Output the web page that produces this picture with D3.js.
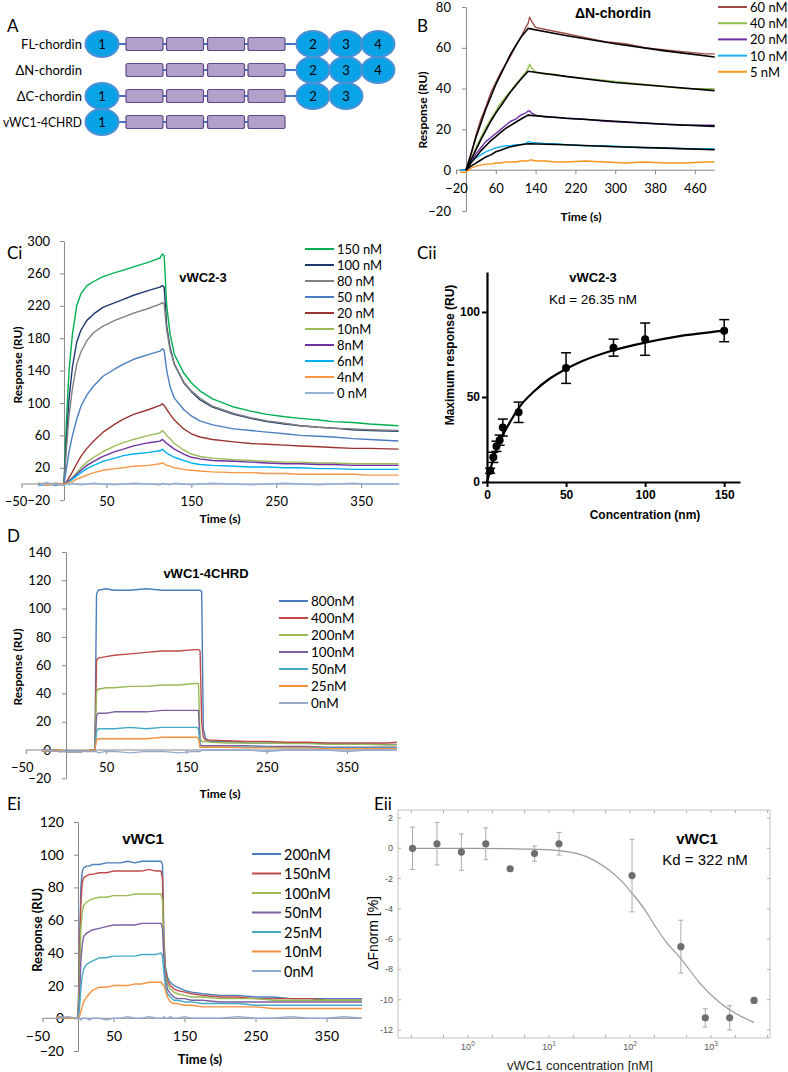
<!DOCTYPE html>
<html><head><meta charset="utf-8">
<script src="https://cdn.jsdelivr.net/npm/d3@7"></script>
<style>body{margin:0;background:#fff} svg{display:block}</style>
</head><body><svg id="c" width="788" height="1072"></svg>
<script>
// ---------------- DATA ----------------
// Panel A
const constructs = ["FL-chordin","ΔN-chordin","ΔC-chordin","vWC1-4CHRD"];
const constructParts = [
  ["v1","c1","c2","c3","c4","v2","v3","v4"],
  ["c1","c2","c3","c4","v2","v3","v4"],
  ["v1","c1","c2","c3","c4","v2","v3"],
  ["v1","c1","c2","c3","c4"]];
const partSlots = ["v1","c1","c2","c3","c4","v2","v3","v4"];
const partLabels = {v1:"1",v2:"2",v3:"3",v4:"4"};

// Panel B  (ΔN-chordin)
const bNames = ["60 nM","40 nM","20 nM","10 nM","5 nM"];
const bTime = [-12,0,10,20,30,40,50,60,70,80,90,100,110,120,125,128,132,140,160,180,200,240,280,320,360,400,440,480,500];
const b60 = [0,0,7,17,25,31,38,43,48,52,56,61,65,70,72,75,73,70,69,68,67,65,63,62,60,59,58,57,57];
const b40 = [0,0,5,11,16,21,25,29,33,36,39,42,45,48,50,52,50,48,47,47,46,45,44,43,42,41,40,40,40];
const b20 = [0,0,4,8,11,14,16,18,20,22,24,25,27,28,29,29,28,27,26,26,25.5,25,24,23.5,23,22.5,22,22,22];
const b10 = [0,0,4,6,7.5,9,10,11,11.5,12,12,12.5,12.5,13,14,14,13.5,13.5,13,13,12.5,12,12,11.5,11,11,10.5,10.5,10.5];
const b5  = [-1,-1,1,2,2.5,3,3,3.5,3.5,4,4,4,4.5,4.5,4.5,5,5,4.5,4.5,4,4,4.5,4,3.5,4,3.5,3.5,4,4];
const bFitTime = [0,10,20,30,40,50,60,70,80,90,100,110,125,200,300,400,500];
const bFit60 = [0,8,16,23,30,36,42,47,52,57,61,65,69.5,66,62,58.5,55.5];
const bFit40 = [0,5,10,15,19.5,24,28,31.5,35,38.5,41.5,44.5,48.5,46,43,41,39];
const bFit20 = [0,3.5,6.5,9.5,12,14.5,16.5,18.5,20.5,22,23.5,25,27,25.5,24,22.5,21.5];
const bFit10 = [0,2,3.5,5,6.5,7.5,9,9.8,10.8,11.5,12,12.5,13,12.5,11.5,10.8,10];
const bXTicks = [-20,60,140,220,300,380,460];
const bYTicks = [-20,0,20,40,60,80];

// Panel Ci (vWC2-3)
const cNames = ["150 nM","100 nM","80 nM","50 nM","20 nM","10nM","8nM","6nM","4nM","0 nM"];
const cTime = [-30,-20,-10,0,3,6,10,15,20,27,35,46,60,70,82,100,113,116,118,121,125,130,141,150,160,175,200,220,239,260,278,300,317,340,360,394];
const c150 = [1,-1,0,0,80,140,185,220,235,245,250,256,261,264,268,274,279,284,282,220,185,160,137,125,115,105,95,90,86,83,81,79,77,76,74,72];
const c100 = [0,1,-1,0,55,105,145,175,190,202,210,218,224,228,233,239,243,245,243,195,168,148,125,114,104,95,86,81,77,74,72,70,69,67,66,65];
const c80  = [-1,0,1,0,45,85,118,148,163,177,187,195,202,206,211,217,222,224,222,190,165,148,126,115,106,96,87,82,78,75,72,70,69,68,67,66];
const c50  = [0,-1,0,0,20,40,60,80,96,110,121,133,142,148,154,160,164,167,165,140,120,106,92,84,78,73,68,66,64,62,60,59,58,56,55,53];
const c20  = [0,0,-1,0,3,8,15,25,34,44,53,64,74,80,86,92,97,99,97,92,86,79,68,62,58,55,52,50,49,48,47,46,45,44,44,43];
const c10  = [0,0,0,0,2,4,8,14,20,27,33,40,47,51,55,60,63,66,64,60,56,50,42,37,34,32,30,29,28,27,27,26,26,25,25,25];
const c8   = [0,0,0,0,2,4,7,12,17,23,28,34,40,43,47,51,53,55,53,50,47,43,37,33,31,29,28,27,26,25,25,24,24,23,23,23];
const c6   = [-2,0,-1,0,1,3,6,10,14,19,23,28,32,35,37,39,41,43,41,38,36,33,29,26,24,23,22,21,21,20,20,19,19,18,18,18];
const c4   = [0,-1,0,0,1,2,3,6,8,11,14,17,19,20,22,23,25,26,25,23,22,20,18,17,16,15,14,14,13,13,12,12,12,12,11,11];
const c0   = [-1,1,0,-2,0,-1,1,0,-1,0,1,0,-1,0,1,0,-1,1,0,0,-1,1,0,-1,0,1,0,-1,0,1,0,-1,0,1,0,0];
const cXTicks = [-50,50,150,250,350];
const cYTicks = [-20,20,60,100,140,180,220,260,300];

// Panel Cii
const ciiConc = [2,4,6,8,10,20,50,80,100,150];
const ciiMax  = [6.6,14.5,21,24.6,32,41,67,79,84,89];
const ciiErr  = [1.5,3,3,3,5,6,9,5,9.5,6.5];
const ciiFitConc = [0,2,4,6,8,10,15,20,30,40,50,60,80,100,120,150];
const ciiFitVal  = [0,7,13.5,19,23.5,27.5,36,43.5,53.5,61,66.5,71,77.5,82,85.5,89];
const ciiXTicks = [0,50,100,150];
const ciiYTicks = [0,50,100];

// Panel D (vWC1-4CHRD)
const dNames = ["800nM","400nM","200nM","100nM","50nM","25nM","0nM"];
const dTime = [-30,-10,0,20,36,38,40,50,60,80,100,120,140,160,163,165,167,169,171,174,180,200,225,250,275,300,325,350,375,400,412];
const d800 = [-1,0,-1,-1,0,110,113,114,113,113,114,113,113,113,113,113,113,112,15,8,6,6,5,5,5,5,4.5,4.5,4.5,4,4];
const d400 = [0,-1,-1,-1,0,63,65,66,67,68,69,70,70,71,71,71,70,20,9,7,7,6.5,6,6,5.5,5.5,5,5,5,5,5.5];
const d200 = [-1,0,-1,-1,0,41,43,44,44,45,45,46,46,47,47,47,8,6,6,6,5.5,5,5,5,4.5,4.5,4,4,4,3.5,3.5];
const d100 = [-1,0,-1,-1,0,24,26,26,27,27,27,28,28,28,28,28,4,3,3,3,3,3,3,2.5,2.5,2.5,2,2,2,2,2];
const d50  = [-1,0,-1,-1,0,13,15,15,15,16,15,16,16,16,16,15,2,2,2,2,2,2,2,2,1.5,1.5,1.5,1.5,1.5,1.5,1.5];
const d25  = [-1,0,-1,-1,0,7,8,8,8,8,8,9,9,9,9,8,2,2,2,2,2,2,1.5,1.5,1.5,1.5,1,1,1,1,1];
const d0   = [0,-1,-1,-1,-1,-1,-2,-1,-1,-2,-1,-1,-2,-1,-1,-1,-1,0,0,0,0,0,0,-1,0,0,0,-1,0,0,0];
const dXTicks = [-50,50,150,250,350];
const dYTicks = [-20,0,20,40,60,80,100,120,140];

// Panel Ei (vWC1)
const eNames = ["200nM","150nM","100nM","50nM","25nM","10nM","0nM"];
const eTime = [-30,-15,0,2,4,6,8,12,16,20,30,40,50,60,70,80,90,100,110,117,119,121,123,126,130,135,140,150,160,175,200,225,250,275,300,325,350,375,400];
const e200 = [1,0,0,40,80,90,92,93,93,94,94,95,95,95,96,95,96,96,96,96,94,50,32,25,22,20,19,17,16,15,14,14,13,13,12,12,12,12,12];
const e150 = [1,0,0,30,70,83,86,87,88,88,89,89,90,90,90,90,90,91,90,90,85,45,30,23,20,18,17,16,15,14,13,13,12,12,12,12,11,11,11];
const e100 = [1,0,0,20,55,65,69,71,72,73,74,74,75,75,75,76,76,76,76,76,72,40,27,21,18,16,15,14,13,13,12,12,12,11,11,11,11,11,11];
const e50  = [1,0,0,10,35,45,50,52,53,54,55,56,57,57,57,57,58,58,58,58,55,35,24,18,15,13,12,12,11,11,10,10,10,10,10,10,10,10,10];
const e25  = [1,0,0,5,18,26,30,33,34,35,37,37,38,38,38,38,39,39,39,40,38,28,20,15,13,11,11,10,10,9,9,9,8,8,8,8,8,8,8];
const e10  = [1,0,0,1,4,7,10,13,15,17,19,19,20,20,20,21,21,22,22,22,21,20,17,13,10,9,9,8,8,7,7,7,7,6,6,6,6,6,6];
const e0   = [0,1,0,0,-1,0,0,0,-1,0,0,-1,0,0,1,0,0,1,0,0,0,1,0,0,1,0,0,1,0,0,0,1,0,0,1,0,0,1,0];
const eXTicks = [-50,50,150,250,350];
const eYTicks = [-20,0,20,40,60,80,100,120];

// Panel Eii (MST)
const eiiConc = [0.207,0.415,0.83,1.66,3.32,6.64,13.3,106,425,850,1700,3400];
const eiiVal  = [0.0,0.3,-0.25,0.3,-1.35,-0.35,0.3,-1.8,-6.5,-11.2,-11.2,-10.05];
const eiiErr  = [1.4,1.4,1.2,1.05,0,0.5,0.75,2.4,1.75,0.6,0.8,0.2];
const eiiFitConc = [0.207,1,5,13.3,29,51,80,107,150,194,281,427,725,1290,2000,3400];
const eiiFitVal  = [0,0,-0.05,-0.15,-0.55,-1.3,-2.2,-3.0,-4.0,-4.95,-6.2,-7.3,-8.9,-10.2,-10.9,-11.5];
const eiiYTicks = [2,0,-2,-4,-6,-8,-10,-12];
const eiiXTicks = [1,10,100,1000];
const eiiMinor = [0.2,0.5,1,2,5,10,20,50,100,200,500,1000,2000,5000];

// ---------------- DRAW ----------------
const svg = d3.select("#c");
const CAL = "Lato, 'Open Sans', sans-serif";
const ARI = "'Liberation Sans', Arial, sans-serif";
const AX = "#868686";

function txt(x, y, s, o = {}) {
  return svg.append("text").attr("x", x).attr("y", y).text(s)
    .attr("font-family", o.ff || CAL).attr("font-size", o.fs || 13)
    .attr("font-weight", o.fw || "normal").attr("fill", o.fill || "#000")
    .attr("text-anchor", o.ta || "start").attr("dominant-baseline", o.db || "auto");
}
function vtxt(x, y, s, o = {}) {
  return svg.append("text").attr("transform", `translate(${x},${y}) rotate(-90)`).text(s)
    .attr("font-family", o.ff || CAL).attr("font-size", o.fs || 12)
    .attr("font-weight", o.fw || "bold").attr("fill", "#000")
    .attr("text-anchor", "middle").attr("dominant-baseline", "central");
}

// Panel labels
txt(7, 32, "A", {fs: 17});
txt(417, 32, "B", {fs: 17});
txt(7, 259, "Ci", {fs: 17});
txt(417, 259, "Cii", {fs: 17});
txt(7, 542, "D", {fs: 17});
txt(7, 810, "Ei", {fs: 17});
txt(374, 810, "Eii", {fs: 17});

// ---- Panel A ----
(function () {
  const sx = d3.scaleOrdinal(partSlots, [102, 144.5, 185, 226, 266.5, 313, 346, 378]);
  const ry = d3.scalePoint(constructs, [44, 122]);
  constructs.forEach((name, i) => {
    const y = ry(name), parts = constructParts[i];
    const g = svg.append("g");
    g.append("line").attr("x1", sx(parts[0])).attr("x2", sx(parts[parts.length - 1]))
      .attr("y1", y).attr("y2", y).attr("stroke", "#4472C4").attr("stroke-width", 2);
    parts.filter(p => p[0] === "c").forEach(p => {
      g.append("rect").attr("x", sx(p) - 18.5).attr("y", y - 6.5).attr("width", 37).attr("height", 13)
        .attr("rx", 2).attr("fill", "#B1A0C7").attr("stroke", "#5F4B8B").attr("stroke-width", 1.2);
    });
    parts.filter(p => p[0] === "v").forEach(p => {
      g.append("ellipse").attr("cx", sx(p)).attr("cy", y).attr("rx", 16.5).attr("ry", 13)
        .attr("fill", "#08A3E6").attr("stroke", "#4F8FD6").attr("stroke-width", 2);
      g.append("text").attr("x", sx(p)).attr("y", y).text(partLabels[p])
        .attr("font-family", CAL).attr("font-size", 13).attr("text-anchor", "middle")
        .attr("dominant-baseline", "central");
    });
    const t = txt(82, y, name, {ta: "end", db: "central", fs: 13});
    const w = t.node().getComputedTextLength();
    if (w > 79) t.attr("textLength", 79).attr("lengthAdjust", "spacingAndGlyphs");
  });
})();

// ---- Sensorgram helper ----
function sensor(p) {
  const g = svg.append("g");
  const x = d3.scaleLinear(p.xDom, p.xRange);
  const y = d3.scaleLinear(p.yDom, p.yRange);
  const ya = g.append("g").attr("transform", `translate(${x(0)},0)`)
    .call(d3.axisLeft(y).tickValues(p.yTicks).tickSize(4).tickSizeOuter(0).tickPadding(p.yPad || 9));
  const xa = g.append("g").attr("transform", `translate(0,${y(0)})`)
    .call(d3.axisBottom(x).tickValues(p.xTicks).tickSize(4).tickSizeOuter(0).tickPadding(p.xPad || 9));
  [ya, xa].forEach(a => {
    a.attr("font-family", CAL).attr("font-size", p.fs || 13);
    a.select("path.domain").attr("stroke", AX);
    a.selectAll(".tick line").attr("stroke", AX);
    a.selectAll(".tick text").attr("fill", "#000");
  });
  // nudge the leftmost x label away from the y-axis "-20" label
  xa.selectAll(".tick text").filter(d => d === p.xTicks[0]).attr("dx", p.firstDx || 0);
  xa.select("path.domain").attr("d", `M${x(p.xDom[0])},0H${x(p.xDom[1])}`);
  const line = d3.line().x((d, i) => x(p.time[i])).y(d => y(d));
  p.series.forEach((s, i) => {
    g.append("path").attr("d", line(s)).attr("fill", "none")
      .attr("stroke", p.colors[i]).attr("stroke-width", 1.4).attr("stroke-linejoin", "round");
  });
  if (p.fits) {
    const fl = d3.line().x((d, i) => x(p.fitTime[i])).y(d => y(d));
    p.fits.forEach(s => g.append("path").attr("d", fl(s)).attr("fill", "none")
      .attr("stroke", "#000").attr("stroke-width", 1.6));
  }
  // legend
  p.names.forEach((n, i) => {
    const ly = p.leg.y + i * p.leg.dy;
    g.append("line").attr("x1", p.leg.x).attr("x2", p.leg.x + 29).attr("y1", ly).attr("y2", ly)
      .attr("stroke", p.colors[i]).attr("stroke-width", 2);
    g.append("text").attr("x", p.leg.x + 32).attr("y", ly).text(n)
      .attr("font-family", CAL).attr("font-size", p.leg.fs || 13).attr("dominant-baseline", "central");
  });
  txt(p.title[0], p.title[1], p.title[2], {ff: ARI, fw: "bold", fs: p.title[3] || 13, ta: "middle", db: "central"});
  vtxt(p.yt[0], p.yt[1], "Response (RU)", {fs: p.atfs || 12});
  txt(p.xt[0], p.xt[1], "Time (s)", {fw: "bold", fs: p.atfs || 12, ta: "middle", db: "central"});
}

// ---- Panel B ----
sensor({
  xDom: [-20, 500], xRange: [456, 714.7], yDom: [-20, 80], yRange: [211, 7],
  xTicks: bXTicks, yTicks: bYTicks, xPad: 10, yPad: 11, time: bTime,
  series: [b60, b40, b20, b10, b5],
  colors: ["#9E4A47", "#92BF4F", "#7030A0", "#17B3EE", "#F7941D"], names: bNames,
  fits: [bFit60, bFit40, bFit20, bFit10], fitTime: bFitTime,
  leg: {x: 718, y: 7, dy: 16.2}, title: [613, 13, "ΔN-chordin", 14],
  yt: [422, 110], xt: [581, 216]
});

// ---- Panel Ci ----
sensor({
  xDom: [-50, 395], xRange: [21.5, 399.4], yDom: [-20, 300], yRange: [500.2, 241],
  xTicks: cXTicks, yTicks: cYTicks, xPad: 9, yPad: 10, time: cTime, firstDx: -6,
  series: [c150, c100, c80, c50, c20, c10, c8, c6, c4, c0],
  colors: ["#00B050", "#1F3A6E", "#808080", "#4A7EC0", "#9A3532", "#9BBB59", "#7030A0", "#00B0F0", "#F79646", "#95B3D7"],
  names: cNames, leg: {x: 305, y: 249, dy: 16}, title: [203, 277, "vWC2-3", 13],
  yt: [17, 365], xt: [220, 518]
});

// ---- Panel D ----
sensor({
  xDom: [-50, 412], xRange: [25.85, 396.8], yDom: [-20, 140], yRange: [778.3, 552],
  xTicks: dXTicks, yTicks: dYTicks, xPad: 9, yPad: 11, time: dTime, firstDx: -4,
  series: [d800, d400, d200, d100, d50, d25, d0],
  colors: ["#4A7EBB", "#BE4B48", "#98B954", "#7D60A0", "#46AAC5", "#F4913F", "#93A9CF"],
  names: dNames, leg: {x: 279, y: 601, dy: 17, fs: 13.5}, title: [206, 573, "vWC1-4CHRD", 13],
  yt: [17, 667], xt: [220, 793]
});

// ---- Panel Ei ----
sensor({
  xDom: [-50, 400], xRange: [42.5, 362], yDom: [-20, 120], yRange: [1051, 822],
  xTicks: eXTicks, yTicks: eYTicks, xPad: 9, yPad: 10, fs: 14, time: eTime, firstDx: -5,
  series: [e200, e150, e100, e50, e25, e10, e0],
  colors: ["#4A7EBB", "#BE4B48", "#98B954", "#7D60A0", "#46AAC5", "#F4913F", "#93A9CF"],
  names: eNames, leg: {x: 252, y: 854, dy: 19.5, fs: 14.5}, title: [143, 838, "vWC1", 15],
  yt: [37, 930], xt: [200, 1059], atfs: 13
});

// ---- Panel Cii ----
(function () {
  const g = svg.append("g");
  const x = d3.scaleLinear([0, 160], [487, 740]);
  const y = d3.scaleLinear([0, 123.5], [482, 272]);
  const xa = g.append("g").attr("transform", "translate(0,482)")
    .call(d3.axisBottom(x).tickValues(ciiXTicks).tickSize(5).tickSizeOuter(0).tickPadding(3));
  const ya = g.append("g").attr("transform", "translate(487,0)")
    .call(d3.axisLeft(y).tickValues(ciiYTicks).tickSize(5).tickSizeOuter(0).tickPadding(2));
  [xa, ya].forEach(a => {
    a.attr("font-family", ARI).attr("font-size", 12).attr("font-weight", "bold");
    a.select("path.domain").attr("stroke", "#000").attr("stroke-width", 2.2);
    a.selectAll(".tick line").attr("stroke", "#000").attr("stroke-width", 2);
    a.selectAll(".tick text").attr("fill", "#000");
  });
  const fl = d3.line().x((d, i) => x(ciiFitConc[i])).y(d => y(d)).curve(d3.curveMonotoneX);
  g.append("path").attr("d", fl(ciiFitVal)).attr("fill", "none").attr("stroke", "#000").attr("stroke-width", 2.2);
  ciiConc.forEach((c, i) => {
    const cx = x(c), t = y(ciiMax[i] + ciiErr[i]), b = y(ciiMax[i] - ciiErr[i]);
    g.append("line").attr("x1", cx).attr("x2", cx).attr("y1", t).attr("y2", b).attr("stroke", "#000").attr("stroke-width", 1.5);
    [t, b].forEach(v => g.append("line").attr("x1", cx - 5).attr("x2", cx + 5).attr("y1", v).attr("y2", v)
      .attr("stroke", "#000").attr("stroke-width", 1.5));
    g.append("circle").attr("cx", cx).attr("cy", y(ciiMax[i])).attr("r", 4).attr("fill", "#000");
  });
  txt(593, 277, "vWC2-3", {ff: ARI, fw: "bold", fs: 13, ta: "middle", db: "central"});
  txt(593, 299, "Kd = 26.35 nM", {ff: ARI, fs: 13.5, ta: "middle", db: "central"});
  vtxt(450, 355, "Maximum response (RU)", {ff: ARI, fs: 12});
  txt(645, 515, "Concentration (nm)", {ff: ARI, fw: "bold", fs: 12, ta: "middle", db: "central"});
})();

// ---- Panel Eii ----
(function () {
  const g = svg.append("g");
  const L = 398, R = 770, T = 810, B = 1038;
  const x = d3.scaleLog([0.137, 5350], [L, R]);
  const y = d3.scaleLinear([-12.53, 2.53], [B, T]);
  g.append("rect").attr("x", L).attr("y", T).attr("width", R - L).attr("height", B - T)
    .attr("fill", "none").attr("stroke", "#c4c4c4").attr("stroke-width", 1);
  eiiMinor.filter(v => x(v) > L && x(v) < R).forEach(v => {
    [[B, B - 3], [T, T + 3]].forEach(([a, b2]) => g.append("line").attr("x1", x(v)).attr("x2", x(v))
      .attr("y1", a).attr("y2", b2).attr("stroke", "#b0b0b0"));
  });
  eiiYTicks.forEach(v => {
    [[L, L + 3], [R, R - 3]].forEach(([a, b2]) => g.append("line").attr("x1", a).attr("x2", b2)
      .attr("y1", y(v)).attr("y2", y(v)).attr("stroke", "#b0b0b0"));
    g.append("text").attr("x", 393).attr("y", y(v)).text(v).attr("font-family", ARI).attr("font-size", 9)
      .attr("fill", "#555").attr("text-anchor", "end").attr("dominant-baseline", "central");
  });
  eiiXTicks.forEach(v => {
    const t = g.append("text").attr("x", x(v)).attr("y", 1050).attr("font-family", ARI).attr("font-size", 9)
      .attr("fill", "#555").attr("text-anchor", "middle");
    t.append("tspan").text("10");
    t.append("tspan").text(String(Math.round(Math.log10(v)))).attr("font-size", 6.5).attr("dy", -4);
  });
  const fl = d3.line().x((d, i) => x(eiiFitConc[i])).y(d => y(d)).curve(d3.curveMonotoneX);
  g.append("path").attr("d", fl(eiiFitVal)).attr("fill", "none").attr("stroke", "#999").attr("stroke-width", 1.2);
  eiiConc.forEach((c, i) => {
    const cx = x(c);
    if (eiiErr[i] > 0) {
      const t = y(eiiVal[i] + eiiErr[i]), b = y(eiiVal[i] - eiiErr[i]);
      g.append("line").attr("x1", cx).attr("x2", cx).attr("y1", t).attr("y2", b).attr("stroke", "#aaa").attr("stroke-width", 1);
      [t, b].forEach(v => g.append("line").attr("x1", cx - 2.5).attr("x2", cx + 2.5).attr("y1", v).attr("y2", v)
        .attr("stroke", "#aaa").attr("stroke-width", 1));
    }
    g.append("circle").attr("cx", cx).attr("cy", y(eiiVal[i])).attr("r", 3.6).attr("fill", "#6e6e6e");
  });
  txt(697, 838, "vWC1", {ff: ARI, fw: "bold", fs: 15, ta: "middle", db: "central"});
  txt(705, 859, "Kd = 322 nM", {ff: ARI, fs: 15, ta: "middle", db: "central"});
  vtxt(373, 933, "ΔFnorm [%]", {ff: ARI, fs: 14, fw: "normal"});
  txt(580, 1065, "vWC1 concentration [nM]", {ff: ARI, fs: 13, ta: "middle", db: "central", fill: "#222"});
})();
</script></body></html>
